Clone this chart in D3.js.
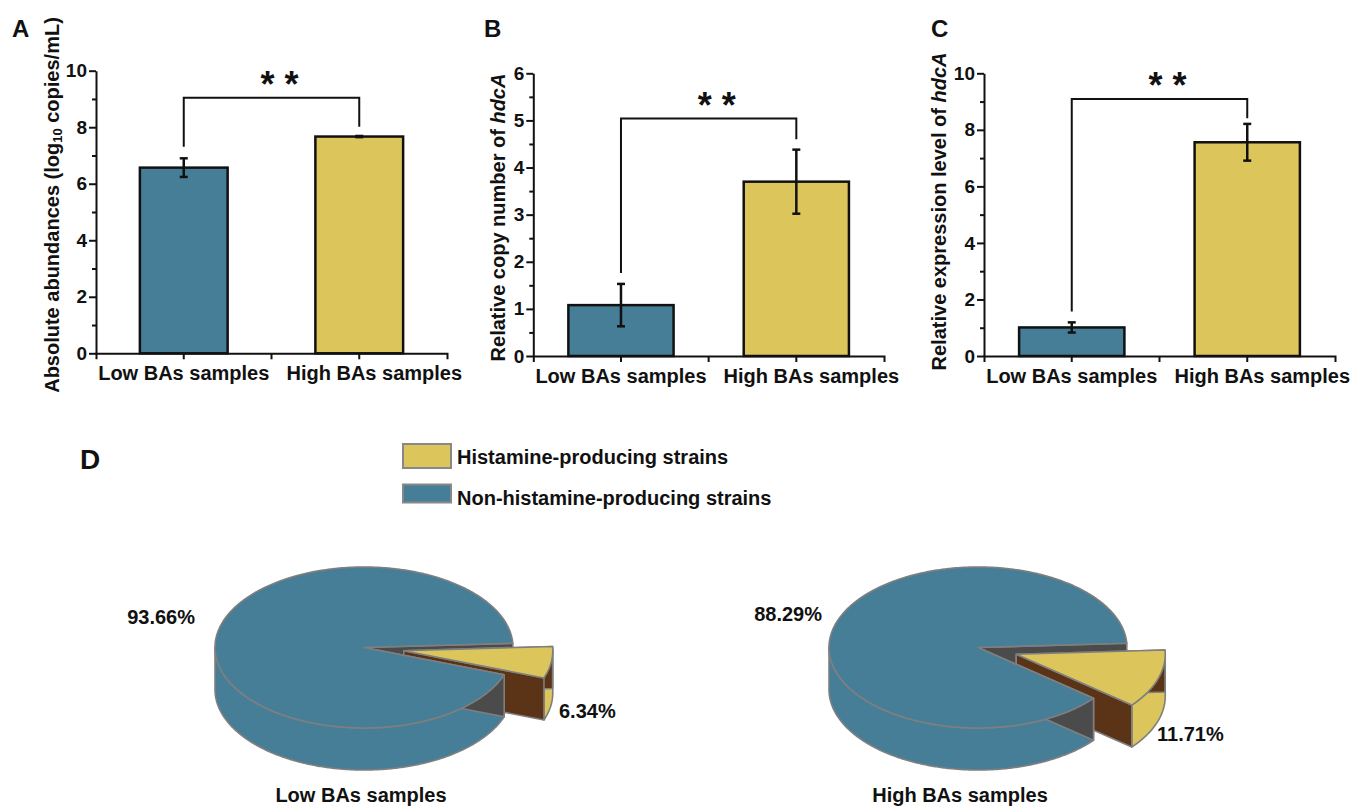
<!DOCTYPE html>
<html>
<head>
<meta charset="utf-8">
<script src="https://cdn.jsdelivr.net/npm/d3@7"></script>
<style>
body { margin: 0; background: #fff; }
svg text { font-family: "Liberation Sans", Arial, Helvetica, sans-serif; font-weight: bold; fill: #111; }
</style>
</head>
<body>
<svg id="fig" width="1353" height="806"></svg>
<script>
// ---- data ----
var categories = ["Low BAs samples", "High BAs samples"];

var absAbundance = [6.57, 7.67],
    absAbundanceErr = [0.33, 0.02];
var copyNumber = [1.08, 3.70],
    copyNumberErr = [0.45, 0.68];
var expression = [1.01, 7.56],
    expressionErr = [0.18, 0.65];

// significance brackets: [left foot, top, right foot] in data units
var bracketA = [7.31, 9.04, 8.02],
    bracketB = [1.76, 5.04, 4.60],
    bracketC = [1.57, 9.09, 8.41];

var yTicksA = [0, 2, 4, 6, 8, 10],
    yTicksB = [0, 1, 2, 3, 4, 5, 6],
    yTicksC = [0, 2, 4, 6, 8, 10];

var pieGroups = ["Low BAs samples", "High BAs samples"];
var histamine = [6.34, 11.71],
    nonHistamine = [93.66, 88.29];
var legendLabels = ["Histamine-producing strains", "Non-histamine-producing strains"];

var blue = "#467e98",
    yellow = "#dcc55a",
    brown = "#5b3316",
    darkGray = "#4b4b4b",
    edge = "#7f7f7f",
    ink = "#111";

var svg = d3.select("#fig");

// ---- bar panels ----
function barPanel(opt) {
    var g = svg.append("g");

    var x = d3.scaleBand()
        .domain(categories)
        .range([opt.x0, opt.x1])
        .paddingInner(opt.padIn)
        .paddingOuter(opt.padOut);
    var y = d3.scaleLinear()
        .domain([0, d3.max(opt.ticks)])
        .range([opt.yBase, opt.yTop]);

    var minor = d3.pairs(opt.ticks).map(function(p) { return (p[0] + p[1]) / 2; });

    // bars
    g.selectAll("rect.bar")
        .data(opt.values)
        .join("rect")
        .attr("class", "bar")
        .attr("x", function(d, i) { return x(categories[i]); })
        .attr("y", function(d) { return y(d); })
        .attr("width", x.bandwidth())
        .attr("height", function(d) { return y(0) - y(d); })
        .attr("fill", function(d, i) { return i === 0 ? blue : yellow; })
        .attr("stroke", ink)
        .attr("stroke-width", 2.5);

    // error bars
    var eb = g.selectAll("g.err")
        .data(opt.values)
        .join("g")
        .attr("class", "err")
        .attr("stroke", ink)
        .attr("stroke-width", 2.5);
    eb.append("line")
        .attr("x1", function(d, i) { return x(categories[i]) + x.bandwidth() / 2; })
        .attr("x2", function(d, i) { return x(categories[i]) + x.bandwidth() / 2; })
        .attr("y1", function(d, i) { return y(d - opt.errors[i]); })
        .attr("y2", function(d, i) { return y(d + opt.errors[i]); });
    [-1, 1].forEach(function(s) {
        eb.append("line")
            .attr("x1", function(d, i) { return x(categories[i]) + x.bandwidth() / 2 - 4; })
            .attr("x2", function(d, i) { return x(categories[i]) + x.bandwidth() / 2 + 4; })
            .attr("y1", function(d, i) { return y(d + s * opt.errors[i]); })
            .attr("y2", function(d, i) { return y(d + s * opt.errors[i]); });
    });

    // axes
    var minorAxis = g.append("g")
        .attr("transform", "translate(" + opt.x0 + ",0)")
        .call(d3.axisLeft(y).tickValues(minor).tickSize(4).tickFormat(""));
    minorAxis.select(".domain").remove();

    var yAxis = g.append("g")
        .attr("transform", "translate(" + opt.x0 + ",0)")
        .call(d3.axisLeft(y).tickValues(opt.ticks).tickFormat(d3.format("d"))
            .tickSize(7).tickSizeOuter(0).tickPadding(2));
    yAxis.selectAll("text").style("font-size", "19px");

    var xAxis = g.append("g")
        .attr("transform", "translate(0," + y(0) + ")")
        .call(d3.axisBottom(x).tickSize(6).tickSizeOuter(6).tickPadding(7));
    xAxis.selectAll("text")
        .style("font-size", "20px")
        .attr("dx", function(d, i) { return i === 1 ? 15 : 0; });
    xAxis.append("line")
        .attr("x1", (x(categories[0]) + x(categories[1]) + x.bandwidth()) / 2)
        .attr("x2", (x(categories[0]) + x(categories[1]) + x.bandwidth()) / 2)
        .attr("y1", 0).attr("y2", 6)
        .attr("stroke", ink);

    g.selectAll(".domain, .tick line").attr("stroke", ink).attr("stroke-width", 2);
    g.selectAll(".tick text").attr("fill", ink);
    [minorAxis, yAxis, xAxis].forEach(function(a) { a.attr("font-family", null).attr("font-size", null); });
    xAxis.selectAll("line").attr("stroke-width", 2);

    // significance bracket
    var xl = x(categories[0]) + x.bandwidth() / 2,
        xr = x(categories[1]) + x.bandwidth() / 2;
    g.append("path")
        .attr("d", "M" + xl + "," + y(opt.bracket[0]) + "V" + y(opt.bracket[1]) + "H" + xr + "V" + y(opt.bracket[2]))
        .attr("fill", "none")
        .attr("stroke", ink)
        .attr("stroke-width", 2);
    g.append("text")
        .attr("x", (xl + xr) / 2 + 8)
        .attr("y", y(opt.bracket[1]) - 1)
        .attr("text-anchor", "middle")
        .style("font-size", "36px")
        .text("* *");

    // y label
    var lab = g.append("text")
        .attr("transform", "translate(" + opt.labelX + "," + opt.labelY + ") rotate(-90)")
        .attr("text-anchor", "middle")
        .attr("dominant-baseline", "central")
        .style("font-size", "20px");
    opt.label(lab);

    // panel letter
    g.append("text")
        .attr("x", opt.letterX)
        .attr("y", 37)
        .style("font-size", "24px")
        .text(opt.letter);
}

barPanel({
    x0: 96, x1: 447, yBase: 353.3, yTop: 70.7,
    padIn: 0.5, padOut: 0.25,
    values: absAbundance, errors: absAbundanceErr,
    ticks: yTicksA, bracket: bracketA,
    labelX: 52, labelY: 205, letter: "A", letterX: 12,
    label: function(t) {
        t.append("tspan").text("Absolute abundances (log");
        t.append("tspan").attr("dy", 5).style("font-size", "13px").text("10");
        t.append("tspan").attr("dy", -5).text(" copies/mL)");
    }
});

barPanel({
    x0: 533.3, x1: 884, yBase: 356, yTop: 73.3,
    padIn: 0.4, padOut: 0.2,
    values: copyNumber, errors: copyNumberErr,
    ticks: yTicksB, bracket: bracketB,
    labelX: 498, labelY: 217.5, letter: "B", letterX: 484,
    label: function(t) {
        t.append("tspan").text("Relative copy number of ");
        t.append("tspan").style("font-style", "italic").text("hdcA");
    }
});

barPanel({
    x0: 984, x1: 1335, yBase: 356, yTop: 73.3,
    padIn: 0.4, padOut: 0.2,
    values: expression, errors: expressionErr,
    ticks: yTicksC, bracket: bracketC,
    labelX: 939, labelY: 211.5, letter: "C", letterX: 931,
    label: function(t) {
        t.append("tspan").text("Relative expression level of ");
        t.append("tspan").style("font-style", "italic").text("hdcA");
    }
});

// ---- panel D: 3D pies ----
svg.append("text").attr("x", 80).attr("y", 469).style("font-size", "28px").text("D");

var legend = svg.append("g");
var legendBoxes = [{y: 444, h: 24, c: yellow}, {y: 484.5, h: 18, c: blue}];
legend.selectAll("rect")
    .data(legendLabels)
    .join("rect")
    .attr("x", 403)
    .attr("y", function(d, i) { return legendBoxes[i].y; })
    .attr("width", 48)
    .attr("height", function(d, i) { return legendBoxes[i].h; })
    .attr("fill", function(d, i) { return legendBoxes[i].c; })
    .attr("stroke", "#888")
    .attr("stroke-width", 2);
legend.selectAll("text")
    .data(legendLabels)
    .join("text")
    .attr("x", 457)
    .attr("y", function(d, i) { return i === 0 ? 464 : 505; })
    .style("font-size", "20px")
    .text(function(d) { return d; });

var rx = 149, ry = 80.5, depth = 42, explode = 0.27;
var deg = Math.PI / 180, start = -3 * deg;

// d3.pie angles start at 12 o'clock; screen angle = d3 angle - 90deg
var pie = d3.pie()
    .sort(null)
    .startAngle(start + Math.PI / 2)
    .endAngle(start + Math.PI / 2 + 2 * Math.PI);

var pieLayout = [
    {cx: 364, cy: 647.5, bigX: 195, bigY: 624, smallX: 559, smallY: 718, titleX: 361},
    {cx: 978, cy: 647.5, bigX: 822, bigY: 621, smallX: 1157, smallY: 741, titleX: 960}
];

var line = d3.line();

function slicePainter(g, cx, cy, t0, t1, top, side) {
    function pt(t, dz) { return [cx + rx * Math.cos(t), cy + ry * Math.sin(t) + dz]; }
    function arcPts(a, b, dz) {
        var n = Math.max(2, Math.ceil(Math.abs(b - a) / 0.01));
        return d3.range(n + 1).map(function(k) { return pt(a + (b - a) * k / n, dz); });
    }
    function poly(pts, fill) {
        g.append("path")
            .attr("d", line(pts) + "Z")
            .attr("fill", fill)
            .attr("stroke", edge)
            .attr("stroke-width", 1.6)
            .attr("stroke-linejoin", "round");
    }
    return {
        wall: function() {
            [-2, 0, 2].forEach(function(k) {
                var a = Math.max(t0, k * Math.PI), b = Math.min(t1, (k + 1) * Math.PI);
                if (b > a) poly(arcPts(a, b, 0).concat(arcPts(b, a, depth)), top);
            });
        },
        face: function(t) {
            poly([[cx, cy], pt(t, 0), pt(t, depth), [cx, cy + depth]], side);
        },
        top: function() {
            poly([[cx, cy]].concat(arcPts(t0, t1, 0)), top);
        }
    };
}

pieGroups.forEach(function(name, i) {
    var L = pieLayout[i];
    var g = svg.append("g");
    var arcs = pie([histamine[i], nonHistamine[i]]);

    var h0 = arcs[0].startAngle - Math.PI / 2, h1 = arcs[0].endAngle - Math.PI / 2;
    var n0 = arcs[1].startAngle - Math.PI / 2, n1 = arcs[1].endAngle - Math.PI / 2;
    var mid = (h0 + h1) / 2;
    var hs = slicePainter(g, L.cx + explode * rx * Math.cos(mid), L.cy + explode * ry * Math.sin(mid), h0, h1, yellow, brown);
    var ns = slicePainter(g, L.cx, L.cy, n0, n1, blue, darkGray);

    // back to front, as the original renderer stacks them
    ns.face(n1);
    hs.wall();
    hs.face(h0);
    hs.face(h1);
    ns.wall();
    ns.face(n0);
    ns.top();
    hs.top();

    g.append("text").attr("x", L.bigX).attr("y", L.bigY).attr("text-anchor", "end")
        .style("font-size", "20px").text(d3.format(".2f")(nonHistamine[i]) + "%");
    g.append("text").attr("x", L.smallX).attr("y", L.smallY)
        .style("font-size", "20px").text(d3.format(".2f")(histamine[i]) + "%");
    g.append("text").attr("x", L.titleX).attr("y", 802).attr("text-anchor", "middle")
        .style("font-size", "20px").text(name);
});
</script>
</body>
</html>
